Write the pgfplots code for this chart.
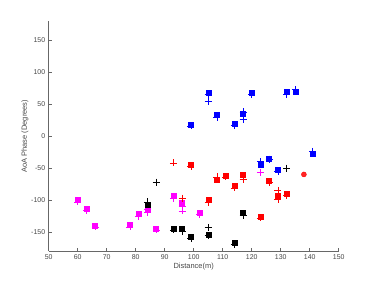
\documentclass[border=0pt]{standalone}
\usepackage{fontspec}
\setmainfont{Liberation Sans}
\usepackage{pgfplots}
\pgfplotsset{compat=1.18}
\definecolor{axgray}{RGB}{38,38,38}
\definecolor{mag}{RGB}{255,0,255}
\begin{document}
\begin{tikzpicture}
\path[use as bounding box] (-48.7bp,-32bp) rectangle (325.3bp,251bp);
\begin{axis}[
  at={(0,0)}, anchor=south west,
  scale only axis, width=290bp, height=229.7bp,
  xmin=50, xmax=150, ymin=-180, ymax=180,
  axis x line*=bottom, axis y line*=left,
  axis line style={draw=axgray!70, line width=0.5pt},
  xtick={50,60,...,150}, ytick={-150,-100,...,150},
  tick align=inside, major tick length=3bp,
  tick style={draw=axgray!70, line width=0.5pt},
  ticklabel style={font=\fontsize{7}{8}\selectfont, text=axgray!85},
  /pgf/number format/assume math mode=true,
  xlabel={Distance(m)}, ylabel={AoA Phase (Degrees)},
  label style={font=\fontsize{7.5}{9}\selectfont, text=axgray!85},
  xlabel style={yshift=3bp},
  ylabel style={yshift=-4bp},
  clip=false,
]
% magenta
\addplot[only marks, mark=square*, mark size=2.5bp, color=mag] coordinates {
(60,-100) (63,-113) (66,-140) (78,-139) (81,-121) (84,-113) (87,-145) (93,-93) (96,-104) (102,-120)};
\addplot[only marks, mark=+, mark size=3.5bp, color=mag, line width=0.5pt] coordinates {
(60,-103) (63,-116) (66,-142) (78,-142) (81,-126) (84,-120) (87,-147) (93,-97) (96,-110) (96,-117) (102,-123) (123,-57) (84,-115)};
% black
\addplot[only marks, mark=square*, mark size=2.5bp, color=black] coordinates {
(84,-107) (93,-145) (96,-145) (99,-158) (105,-154) (114,-167) (117,-120)};
\addplot[only marks, mark=+, mark size=3.5bp, color=black, line width=0.5pt] coordinates {
(84,-103) (93,-147) (96,-149) (99,-160) (105,-156) (114,-170) (117,-124) (87,-72) (105,-143) (132,-50)};
% red
\addplot[only marks, mark=square*, mark size=2.5bp, color=red] coordinates {
(99,-44) (105,-100) (108,-68) (111,-62) (114,-77) (117,-60) (123,-126) (126,-70) (129,-93) (132,-90)};
\addplot[only marks, mark=+, mark size=3.5bp, color=red, line width=0.5pt] coordinates {
(99,-47) (105,-104) (108,-64) (111,-64) (114,-81) (117,-68) (123,-128) (126,-72) (129,-85) (129,-99) (132,-93) (93,-42) (96,-97)};
\addplot[only marks, mark=*, mark size=2.5bp, color=red, fill=red!85] coordinates {(138,-60)};
% blue
\addplot[only marks, mark=square*, mark size=2.5bp, color=blue] coordinates {
(99,18) (105,68) (108,33) (114,19) (117,35) (120,68) (123,-44) (126,-36) (129,-52) (132,69) (135,70) (141,-27)};
\addplot[only marks, mark=+, mark size=3.5bp, color=blue, line width=0.5pt] coordinates {
(99,16) (105,65) (108,30) (114,17) (117,38) (120,66) (123,-40) (126,-36) (129,-55) (132,66) (135,73) (141,-24) (105,54) (117,26)};
\end{axis}
\end{tikzpicture}
\end{document}
